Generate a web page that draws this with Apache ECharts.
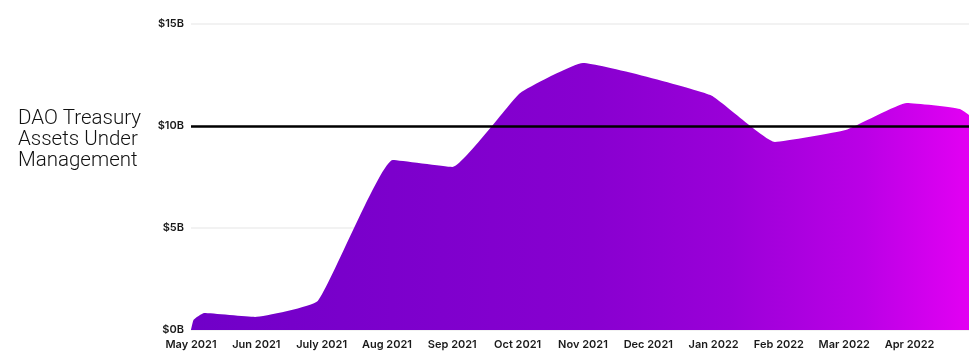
<!DOCTYPE html>
<html>
<head>
<meta charset="utf-8">
<script src="https://cdn.jsdelivr.net/npm/echarts@6/dist/echarts.min.js"></script>
<style>
html,body{margin:0;padding:0;background:#fff;}
#c{width:969px;height:360px;}
</style>
</head>
<body>
<div id="c"></div>
<script>
// Month labels (x axis ticks at integer month positions, 0 = May 2021)
var monthLabels = ['May 2021','Jun 2021','July 2021','Aug 2021','Sep 2021','Oct 2021','Nov 2021','Dec 2021','Jan 2022','Feb 2022','Mar 2022','Apr 2022'];
// Data point positions (in months from May 2021) and values (billions USD)
var pointMonths = [0, 0.04, 0.2, 0.98, 1.94, 3.09, 4.0, 5.04, 6.0, 7.95, 8.94, 10.02, 10.96, 11.77, 12.3];
var aumValues   = [0, 0.5, 0.83, 0.64, 1.42, 8.33, 7.99, 11.62, 13.09, 11.52, 9.22, 9.80, 11.13, 10.83, 9.6];
// Y axis ticks (billions)
var yTicks = [0, 5, 10, 15];
var refLine = 10;

var seriesData = pointMonths.map(function (m, i) { return [m, aumValues[i]]; });

var chart = echarts.init(document.getElementById('c'), null, {renderer: 'canvas'});
chart.setOption({
  animation: false,
  backgroundColor: '#ffffff',
  title: {
    text: 'DAO Treasury\nAssets Under\nManagement',
    left: 13,
    top: 103,
    textStyle: {
      fontFamily: 'Roboto',
      fontWeight: 300,
      fontSize: 20.5,
      lineHeight: 21,
      color: '#111'
    }
  },
  grid: {left: 191, right: 0, top: 24, bottom: 30},
  xAxis: {
    type: 'value',
    min: 0,
    max: 11.91,
    interval: 1,
    axisLine: {show: false},
    axisTick: {show: false},
    splitLine: {show: false},
    axisLabel: {
      margin: 9,
      fontFamily: 'Inter',
      fontWeight: 600,
      fontSize: 11,
      color: '#1a1a1a',
      showMaxLabel: false,
      formatter: function (v) { return monthLabels[Math.round(v)] || ''; }
    }
  },
  yAxis: {
    type: 'value',
    min: yTicks[0],
    max: yTicks[yTicks.length - 1],
    interval: 5,
    z: 3,
    axisLine: {show: false},
    axisTick: {show: false},
    splitLine: {show: true, lineStyle: {color: 'rgba(225,225,225,0.6)', width: 1.5}},
    axisLabel: {
      margin: 7,
      fontFamily: 'Inter',
      fontWeight: 600,
      fontSize: 11,
      color: '#1a1a1a',
      formatter: function (v) { return '$' + v + 'B'; }
    }
  },
  series: [{
    type: 'line',
    data: seriesData,
    smooth: 0.12,
    symbol: 'none',
    clip: true,
    lineStyle: {width: 0},
    areaStyle: {
      opacity: 1,
      color: new echarts.graphic.LinearGradient(0, 0, 1, 0, [
        {offset: 0, color: '#7000c8'},
        {offset: 0.5, color: '#8800d0'},
        {offset: 0.67, color: '#9a00d8'},
        {offset: 0.84, color: '#bb00e6'},
        {offset: 1, color: '#ec00f6'}
      ])
    },
    markLine: {
      silent: true,
      symbol: 'none',
      label: {show: false},
      lineStyle: {color: '#000', width: 2.5, type: 'solid'},
      data: [{yAxis: refLine}]
    }
  }]
});
</script>
</body>
</html>
